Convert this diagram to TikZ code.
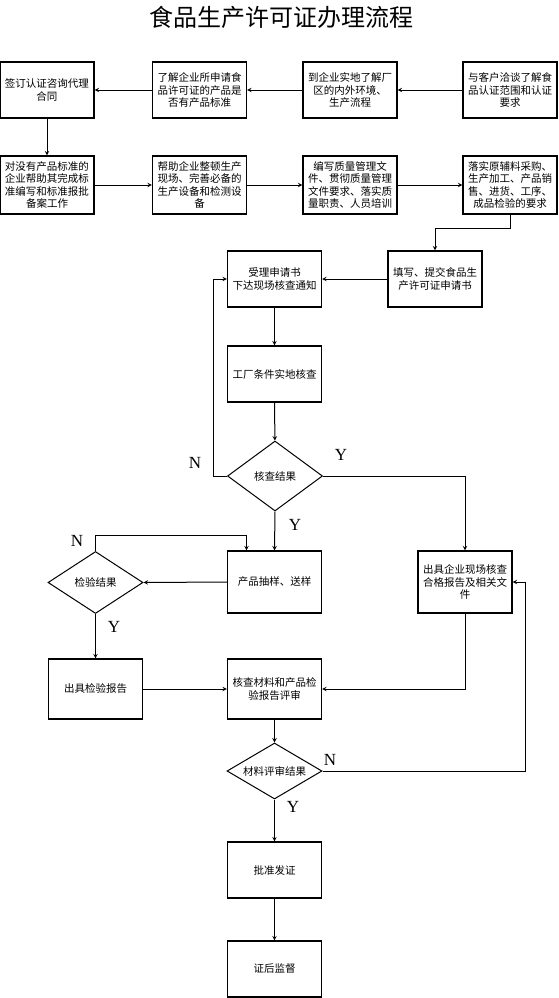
\documentclass[tikz,border=0pt]{standalone}
\usepackage{fontspec}
\setmainfont{Noto Sans CJK SC}
\newfontfamily\ynfont{Liberation Serif}
\usetikzlibrary{shapes.geometric}

\newlength{\du}
\setlength{\du}{1pt}

\tikzset{
  stepbox/.style={draw, line width=1.1\du, minimum width=94\du, minimum height=56\du,
    inner sep=1\du, align=center, font=\fontsize{10.5}{12.5}\selectfont},
  testbox/.style={draw, diamond, shape aspect=1.8, line width=1\du, minimum width=95\du, minimum height=62\du,
    inner sep=0pt, align=center, font=\fontsize{10.5}{12.5}\selectfont},
  flow/.style={line width=1\du, -stealth},
  ynlabel/.style={font=\ynfont\fontsize{17}{17}\selectfont, inner sep=0pt}
}

\begin{document}
\begin{tikzpicture}
\pgftransformxscale{1.000000}
\pgftransformyscale{-1.000000}
\useasboundingbox (0\du,0\du) rectangle (558\du,998\du);
% title
\node (title) at (281\du,17\du){\fontsize{24}{24}\selectfont 食品生产许可证办理流程};
% first row
\node[stepbox] (contract) at (47\du,90\du){签订认证咨询代理\\合同};
\node[stepbox] (standard) at (199.5\du,90\du){了解企业所申请食\\品许可证的产品是\\否有产品标准};
\node[stepbox] (visit) at (350\du,90\du){到企业实地了解厂\\区的内外环境、\\生产流程};
\node[stepbox] (talk) at (510\du,90\du){与客户洽谈了解食\\品认证范围和认证\\要求};
% second row
\node[stepbox, minimum height=58\du] (helpstd) at (47\du,185\du){对没有产品标准的\\企业帮助其完成标\\准编写和标准报批\\备案工作};
\node[stepbox, minimum height=58\du] (helpsite) at (199.5\du,185\du){帮助企业整顿生产\\现场、完善必备的\\生产设备和检测设\\备};
\node[stepbox, minimum height=58\du] (quality) at (350\du,185\du){编写质量管理文\\件、贯彻质量管理\\文件要求、落实质\\量职责、人员培训};
\node[stepbox, minimum height=58\du] (purchase) at (510\du,185\du){落实原辅料采购、\\生产加工、产品销\\售、进货、工序、\\成品检验的要求};
% application
\node[stepbox] (apply) at (435\du,279\du){填写、提交食品生\\产许可证申请书};
\node[stepbox] (accept) at (274.5\du,279\du){受理申请书\\下达现场核查通知};
\node[stepbox] (factory) at (274.5\du,374\du){工厂条件实地核查};
\node[testbox, minimum height=70\du] (checkres) at (275\du,476\du){核查结果};
\node[stepbox, minimum height=62\du] (sample) at (274.5\du,582\du){产品抽样、送样};
\node[stepbox, minimum height=62\du] (siterep) at (465\du,582\du){出具企业现场核查\\合格报告及相关文\\件};
\node[testbox] (testres) at (95.5\du,582.5\du){检验结果};
\node[stepbox, minimum height=60\du] (testrep) at (95.5\du,689\du){出具检验报告};
\node[stepbox, minimum height=60\du] (review) at (274.5\du,689\du){核查材料和产品检\\验报告评审};
\node[testbox, minimum height=56\du] (reviewres) at (274.5\du,771\du){材料评审结果};
\node[stepbox] (approve) at (274.5\du,870\du){批准发证};
\node[stepbox] (supervise) at (274.5\du,969\du){证后监督};
\coordinate (back) at (525\du,771\du);
% connectors
\draw[flow] (talk) -- (visit);
\draw[flow] (visit) -- (standard);
\draw[flow] (standard) -- (contract);
\draw[flow] (contract) -- (helpstd);
\draw[flow] (helpstd) -- (helpsite);
\draw[flow] (helpsite) -- (quality);
\draw[flow] (quality) -- (purchase);
\draw[flow] (purchase.south) -- ++(0\du,14\du) -| (apply.north);
\draw[flow] (apply) -- (accept);
\draw[flow] (accept) -- (factory);
\draw[flow] (factory) -- (checkres);
\draw[flow] (checkres.west) -- ++(-14\du,0\du) |- (accept.west);
\draw[flow] (checkres.east) -| (siterep.north);
\draw[flow] (checkres.south) -- (sample.north);
\draw[flow] (sample.west) -- (testres.east);
\draw[flow] (testres.north) -- ++(0\du,-16\du) -| ([xshift=-28\du]sample.north);
\draw[flow] (testres.south) -- (testrep.north);
\draw[flow] (testrep.east) -- (review.west);
\draw[flow] (siterep.south) |- (review.east);
\draw[flow] (review.south) -- (reviewres.north);
\draw[flow] (reviewres.east) -- (back) |- (siterep.east);
\draw[flow] (reviewres.south) -- (approve.north);
\draw[flow] (approve.south) -- (supervise.north);
% Y / N
\node[ynlabel] (n1) at (195\du,463\du){N};
\node[ynlabel] (y1) at (341\du,455\du){Y};
\node[ynlabel] (y2) at (295\du,525\du){Y};
\node[ynlabel] (n2) at (77\du,541\du){N};
\node[ynlabel] (y3) at (114\du,627\du){Y};
\node[ynlabel] (n3) at (330\du,760\du){N};
\node[ynlabel] (y4) at (293\du,807\du){Y};
\end{tikzpicture}
\end{document}
